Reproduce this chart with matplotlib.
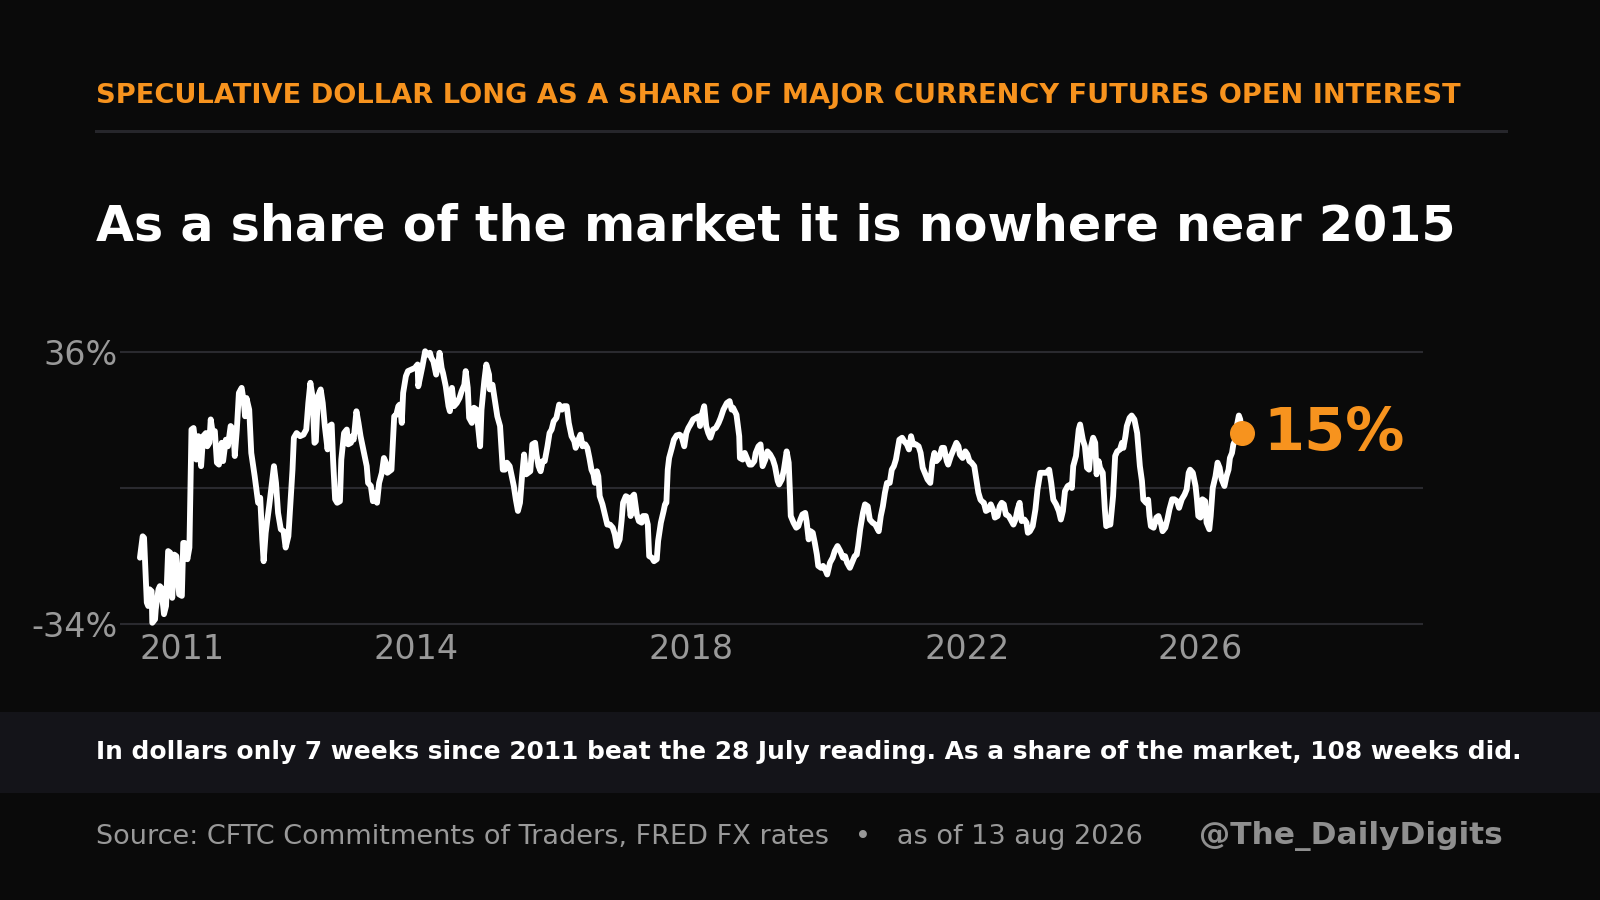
import matplotlib
matplotlib.use("Agg")
import matplotlib.pyplot as plt
from matplotlib.patches import Rectangle
from matplotlib.lines import Line2D

# weekly readings, decimal year -> speculative dollar long as % of open interest
d2010 = [2010.59, 2010.63, 2010.65, 2010.69, 2010.71, 2010.73, 2010.76, 2010.77, 2010.81, 2010.82,
         2010.86, 2010.88, 2010.90, 2010.94, 2010.97]
s2010 = [-16.9, -11.4, -11.8, -28.4, -29.3, -25.0, -25.5, -33.6, -32.7, -30.2,
         -25.0, -24.2, -24.6, -31.4, -29.3]

d2011 = [2011.00, 2011.03, 2011.06, 2011.09, 2011.12, 2011.16, 2011.20, 2011.22, 2011.24, 2011.28,
         2011.31, 2011.34, 2011.37, 2011.39, 2011.41, 2011.44, 2011.48, 2011.51, 2011.55, 2011.57,
         2011.60, 2011.62, 2011.65, 2011.68, 2011.71, 2011.74, 2011.78, 2011.80, 2011.84, 2011.87,
         2011.91, 2011.95, 2011.97]
s2011 = [-15.2, -15.6, -27.2, -16.1, -16.5, -26.3, -26.7, -13.1, -13.1, -17.3,
         -14.3, 16.0, 16.4, 13.4, 8.3, 14.3, 6.6, 14.3, 15.1, 11.7,
         12.6, 18.6, 15.1, 15.6, 7.5, 7.0, 12.6, 7.9, 13.4, 11.7,
         16.9, 16.0, 9.2]

d2012 = [2012.00, 2012.03, 2012.07, 2012.10, 2012.12, 2012.14, 2012.18, 2012.21, 2012.26, 2012.31,
         2012.34, 2012.37, 2012.39, 2012.42, 2012.47, 2012.51, 2012.54, 2012.57, 2012.60, 2012.64,
         2012.68, 2012.71, 2012.75, 2012.78, 2012.81, 2012.83, 2012.87, 2012.92, 2012.97]
s2012 = [16.0, 25.4, 26.7, 23.3, 19.4, 24.1, 21.1, 10.0, 4.0, -2.8,
         -1.5, -12.2, -17.8, -10.5, -3.7, 2.3, 6.6, 2.3, -5.4, -9.6,
         -10.1, -14.3, -11.4, -2.8, 5.7, 13.9, 15.1, 14.3, 14.7]

d2013 = [2013.01, 2013.04, 2013.07, 2013.10, 2013.13, 2013.15, 2013.18, 2013.22, 2013.25, 2013.28,
         2013.32, 2013.35, 2013.38, 2013.40, 2013.43, 2013.46, 2013.50, 2013.52, 2013.56, 2013.60,
         2013.62, 2013.66, 2013.68, 2013.70, 2013.74, 2013.77, 2013.80, 2013.84, 2013.89, 2013.91,
         2013.95, 2013.98]
s2013 = [16.0, 22.8, 28.0, 24.6, 12.6, 13.0, 24.6, 26.3, 22.8, 16.9,
         10.9, 16.9, 17.3, 8.3, -1.9, -2.8, -2.4, 8.3, 15.1, 16.0,
         12.2, 12.6, 14.3, 13.4, 20.7, 17.7, 14.3, 10.9, 6.6, 2.3,
         1.5, -2.4]

d2014 = [2014.01, 2014.04, 2014.07, 2014.11, 2014.14, 2014.17, 2014.19, 2014.22, 2014.25, 2014.29,
         2014.32, 2014.35, 2014.37, 2014.40, 2014.42, 2014.46, 2014.49, 2014.54, 2014.59, 2014.63,
         2014.64, 2014.66, 2014.70, 2014.74, 2014.77, 2014.81, 2014.83, 2014.86, 2014.90, 2014.93,
         2014.95, 2014.98]
s2014 = [-0.2, -2.8, 2.3, 4.9, 8.7, 7.5, 4.9, 5.3, 5.7, 19.4,
         19.8, 22.0, 22.4, 17.7, 25.4, 29.7, 31.0, 31.4, 31.8, 32.7,
         27.1, 28.8, 32.2, 36.1, 35.2, 35.7, 34.4, 33.5, 30.1, 32.7,
         35.7, 31.8]

d2015 = [2015.00, 2015.04, 2015.08, 2015.10, 2015.13, 2015.16, 2015.20, 2015.24, 2015.27, 2015.31,
         2015.33, 2015.36, 2015.38, 2015.42, 2015.45, 2015.49, 2015.51, 2015.54, 2015.56, 2015.60,
         2015.63, 2015.67, 2015.68, 2015.72, 2015.76, 2015.79, 2015.83, 2015.87, 2015.90, 2015.93,
         2015.97]
s2015 = [30.5, 27.1, 22.0, 20.7, 26.7, 22.0, 22.8, 24.1, 25.8, 27.5,
         31.0, 26.7, 19.0, 17.7, 21.6, 21.1, 16.9, 11.7, 21.1, 28.4,
         32.7, 30.1, 26.3, 27.5, 22.8, 19.4, 16.9, 5.7, 5.7, 7.5,
         6.6]

d2016 = [2016.00, 2016.03, 2016.06, 2016.09, 2016.12, 2016.15, 2016.18, 2016.21, 2016.24, 2016.27,
         2016.30, 2016.34, 2016.36, 2016.39, 2016.42, 2016.45, 2016.48, 2016.52, 2016.55, 2016.58,
         2016.61, 2016.65, 2016.69, 2016.73, 2016.76, 2016.80, 2016.83, 2016.87, 2016.91, 2016.93,
         2016.97]
s2016 = [4.0, 1.5, -2.0, -4.9, -2.8, 4.0, 9.6, 4.5, 4.9, 5.3,
         12.2, 12.6, 9.6, 6.6, 5.3, 7.9, 7.9, 11.7, 15.1, 16.0,
         18.1, 19.0, 22.4, 21.1, 22.0, 22.0, 17.7, 14.3, 13.0, 11.3,
         13.4]

d2017 = [2017.00, 2017.03, 2017.07, 2017.10, 2017.13, 2017.16, 2017.19, 2017.21, 2017.24, 2017.26,
         2017.28, 2017.32, 2017.36, 2017.39, 2017.43, 2017.47, 2017.50, 2017.53, 2017.57, 2017.60,
         2017.62, 2017.66, 2017.70, 2017.73, 2017.76, 2017.78, 2017.82, 2017.85, 2017.89, 2017.91,
         2017.95, 2017.98]
s2017 = [14.7, 11.7, 12.2, 11.3, 8.7, 5.7, 4.5, 2.3, 5.3, 4.0,
         -1.1, -3.2, -6.2, -8.4, -8.4, -9.2, -10.9, -13.9, -12.2, -7.1,
         -2.8, -1.1, -1.5, -6.2, -1.1, -0.7, -5.8, -7.5, -7.9, -6.2,
         -6.2, -8.4]

d2018 = [2018.00, 2018.04, 2018.07, 2018.11, 2018.13, 2018.17, 2018.21, 2018.23, 2018.25, 2018.27,
         2018.29, 2018.33, 2018.36, 2018.40, 2018.44, 2018.47, 2018.51, 2018.54, 2018.57, 2018.60,
         2018.64, 2018.68, 2018.72, 2018.74, 2018.76, 2018.80, 2018.83, 2018.86, 2018.89, 2018.93,
         2018.97]
s2018 = [-16.5, -16.9, -17.8, -17.3, -12.6, -7.9, -4.9, -3.2, -2.8, 5.7,
         8.7, 11.3, 13.4, 14.5, 14.7, 14.3, 11.7, 15.1, 16.4, 17.3,
         18.6, 19.0, 19.4, 16.9, 19.4, 22.0, 16.9, 15.1, 13.9, 16.0,
         16.4]

d2019 = [2019.01, 2019.04, 2019.08, 2019.13, 2019.17, 2019.20, 2019.22, 2019.27, 2019.31, 2019.32,
         2019.36, 2019.39, 2019.43, 2019.46, 2019.49, 2019.53, 2019.55, 2019.59, 2019.62, 2019.65,
         2019.69, 2019.72, 2019.76, 2019.80, 2019.83, 2019.87, 2019.89, 2019.93, 2019.96]
s2019 = [17.7, 19.0, 21.1, 22.8, 23.3, 21.1, 21.6, 19.8, 14.3, 8.7,
         8.3, 10.0, 8.3, 7.0, 7.0, 7.9, 10.0, 11.7, 12.2, 6.6,
         8.3, 10.4, 9.6, 8.3, 6.6, 2.8, 1.9, 3.2, 5.7]

d2020 = [2020.00, 2020.03, 2020.05, 2020.06, 2020.10, 2020.14, 2020.17, 2020.20, 2020.23, 2020.27,
         2020.29, 2020.32, 2020.35, 2020.38, 2020.41, 2020.44, 2020.46, 2020.50, 2020.53, 2020.57,
         2020.59, 2020.63, 2020.67, 2020.70, 2020.74, 2020.78, 2020.82, 2020.85, 2020.88, 2020.92,
         2020.95, 2020.99]
s2020 = [10.4, 7.5, -1.1, -6.2, -7.9, -9.2, -8.8, -7.1, -5.8, -5.4,
         -7.5, -12.2, -10.1, -10.5, -13.1, -16.1, -19.0, -19.5, -19.0, -20.3,
         -21.2, -18.2, -16.9, -15.2, -13.9, -15.2, -16.9, -16.5, -18.2, -19.5,
         -18.2, -16.5]

d2021 = [2021.02, 2021.04, 2021.07, 2021.11, 2021.14, 2021.18, 2021.21, 2021.25, 2021.29, 2021.34,
         2021.37, 2021.40, 2021.43, 2021.46, 2021.50, 2021.53, 2021.56, 2021.59, 2021.61, 2021.64,
         2021.68, 2021.71, 2021.75, 2021.78, 2021.81, 2021.84, 2021.88, 2021.92, 2021.95, 2021.98]
s2021 = [-16.1, -13.9, -9.6, -5.4, -3.2, -3.7, -7.1, -7.9, -8.4, -10.1,
         -6.2, -3.7, -0.2, 2.3, 2.3, 5.7, 6.6, 8.3, 10.4, 13.4,
         13.9, 13.0, 12.2, 10.9, 14.3, 12.2, 12.2, 11.7, 10.0, 6.2]

d2022 = [2022.01, 2022.05, 2022.09, 2022.12, 2022.15, 2022.18, 2022.22, 2022.26, 2022.29, 2022.33,
         2022.35, 2022.39, 2022.43, 2022.47, 2022.50, 2022.52, 2022.56, 2022.60, 2022.63, 2022.66,
         2022.69, 2022.73, 2022.76, 2022.79, 2022.82, 2022.84, 2022.87, 2022.90, 2022.94, 2022.97]
s2022 = [4.9, 3.2, 2.3, 7.5, 10.0, 7.9, 8.7, 11.3, 11.3, 7.9,
         7.0, 9.2, 10.9, 12.6, 11.7, 9.6, 8.7, 10.4, 9.6, 7.9,
         7.5, 6.6, 3.2, -0.2, -2.0, -2.4, -2.8, -4.9, -4.5, -3.2]

d2023 = [2023.01, 2023.03, 2023.07, 2023.10, 2023.13, 2023.16, 2023.19, 2023.23, 2023.26, 2023.30,
         2023.33, 2023.36, 2023.39, 2023.42, 2023.46, 2023.49, 2023.51, 2023.54, 2023.58, 2023.62,
         2023.65, 2023.69, 2023.73, 2023.78, 2023.82, 2023.85, 2023.88, 2023.92, 2023.96, 2023.99]
s2023 = [-4.9, -6.6, -6.2, -3.7, -2.8, -3.2, -5.8, -6.2, -7.1, -8.4,
         -7.1, -4.5, -2.8, -7.5, -7.1, -7.9, -10.5, -10.1, -8.8, -4.5,
         0.6, 4.9, 4.9, 4.9, 5.7, 2.3, -2.0, -3.2, -4.9, -7.1]

d2024 = [2024.02, 2024.05, 2024.09, 2024.13, 2024.15, 2024.17, 2024.21, 2024.25, 2024.27, 2024.31,
         2024.34, 2024.37, 2024.40, 2024.43, 2024.46, 2024.49, 2024.51, 2024.54, 2024.56, 2024.60,
         2024.63, 2024.65, 2024.68, 2024.71, 2024.75, 2024.78, 2024.81, 2024.85, 2024.88, 2024.90,
         2024.93, 2024.95, 2024.99]
s2024 = [-4.9, 0.2, 1.5, 1.9, 1.0, 6.6, 9.2, 16.0, 17.3, 13.4,
         11.7, 6.2, 5.7, 11.7, 13.9, 12.6, 4.5, 7.9, 6.2, 4.9,
         -4.5, -8.8, -8.4, -8.4, -1.1, 9.2, 10.4, 10.9, 12.6, 11.3,
         14.3, 16.9, 19.0]

d2025 = [2025.02, 2025.06, 2025.10, 2025.12, 2025.14, 2025.17, 2025.19, 2025.23, 2025.26, 2025.28,
         2025.30, 2025.34, 2025.38, 2025.41, 2025.45, 2025.47, 2025.51, 2025.54, 2025.57, 2025.61,
         2025.64, 2025.68, 2025.71, 2025.75, 2025.79, 2025.82, 2025.85, 2025.87, 2025.91, 2025.95,
         2025.97, 2025.99]
s2025 = [19.6, 18.6, 15.1, 10.9, 6.6, 2.8, -2.0, -2.8, -2.0, -6.2,
         -8.8, -9.2, -6.6, -6.2, -8.4, -10.1, -9.2, -7.1, -4.5, -1.9,
         -1.9, -2.4, -4.1, -1.9, -0.7, 0.6, 4.9, 5.7, 4.9, 1.5,
         -1.9, -6.2]

d2026 = [2026.02, 2026.05, 2026.09, 2026.11, 2026.15, 2026.17, 2026.20, 2026.24, 2026.27, 2026.30,
         2026.33, 2026.37, 2026.40, 2026.43, 2026.45, 2026.48, 2026.50, 2026.53, 2026.55, 2026.58,
         2026.60, 2026.62]
s2026 = [-6.6, -1.9, -2.4, -7.9, -9.6, -6.2, 1.0, 4.0, 7.5, 6.2,
         3.2, 1.5, 4.0, 5.7, 8.7, 10.0, 12.2, 13.4, 16.9, 19.6,
         18.6, 15.0]

dates = (d2010 + d2011 + d2012 + d2013 + d2014 + d2015 + d2016 + d2017 + d2018
         + d2019 + d2020 + d2021 + d2022 + d2023 + d2024 + d2025 + d2026)
share = (s2010 + s2011 + s2012 + s2013 + s2014 + s2015 + s2016 + s2017 + s2018
         + s2019 + s2020 + s2021 + s2022 + s2023 + s2024 + s2025 + s2026)

tick_years = [2011.21, 2014.61, 2018.61, 2022.62, 2026.01]
tick_labels = ["2011", "2014", "2018", "2022", "2026"]
y_ticks = [-34, 1, 36]
y_labels = ["-34%", "", "36%"]

header = "SPECULATIVE DOLLAR LONG AS A SHARE OF MAJOR CURRENCY FUTURES OPEN INTEREST"
title = "As a share of the market it is nowhere near 2015"
note = "In dollars only 7 weeks since 2011 beat the 28 July reading. As a share of the market, 108 weeks did."
source = "Source: CFTC Commitments of Traders, FRED FX rates   \u2022   as of 13 aug 2026"
handle = "@The_DailyDigits"

BG = "#0a0a0a"
ORANGE = "#f7931e"
GRID = "#2a2a2f"
GRAY = "#999999"

fig = plt.figure(figsize=(16, 9), dpi=100, facecolor=BG)

ax = fig.add_axes([0.075, 0.3050, 0.8144, 0.3056])
ax.set_facecolor(BG)
ax.plot(dates, share, color="white", lw=4.2, solid_joinstyle="round",
        solid_capstyle="round", clip_on=False, zorder=3)
ax.plot(dates[-1], share[-1], "o", color=ORANGE, ms=17, zorder=4, clip_on=False)
ax.annotate(f"{share[-1]:.0f}%", (dates[-1], share[-1]), xytext=(15.5, -12),
            textcoords="offset points", color=ORANGE, fontsize=42.5,
            fontweight="bold", ha="left", va="baseline")

ax.set_xlim(2010.30, 2029.26)
ax.set_ylim(-34.3, 36.3)
ax.set_xticks(tick_years)
ax.set_xticklabels(tick_labels)
ax.set_yticks(y_ticks)
ax.set_yticklabels(y_labels)
ax.tick_params(length=0, colors=GRAY, labelsize=24)
ax.tick_params(axis="x", pad=5.6)
ax.tick_params(axis="y", pad=1.4)
ax.grid(axis="y", color=GRID, lw=1.5)
ax.set_axisbelow(True)
for sp in ax.spines.values():
    sp.set_visible(False)

# header block
LEFT = 0.0598
fig.text(LEFT, 0.8852, header, color=ORANGE, fontsize=19.6, fontweight="bold", va="baseline")
fig.add_artist(Line2D([0.0598, 0.9410], [0.8544, 0.8544], color="#26262b", lw=2.2))
fig.text(LEFT, 0.7333, title, color="white", fontsize=35.4, fontweight="bold", va="baseline")

# footer band
fig.add_artist(Rectangle((0, 0.1192), 1, 0.0897, transform=fig.transFigure,
                         facecolor="#141419", edgecolor="none", zorder=0))
fig.text(LEFT, 0.1563, note, color="white", fontsize=17.9, fontweight="bold", va="baseline")
fig.text(LEFT, 0.0622, source, color=GRAY, fontsize=19.5, va="baseline")
fig.text(0.9394, 0.0622, handle, color="#8f8f8f", fontsize=22.5, fontweight="bold",
         ha="right", va="baseline")

fig.savefig("out.png", dpi=100, facecolor=BG)
